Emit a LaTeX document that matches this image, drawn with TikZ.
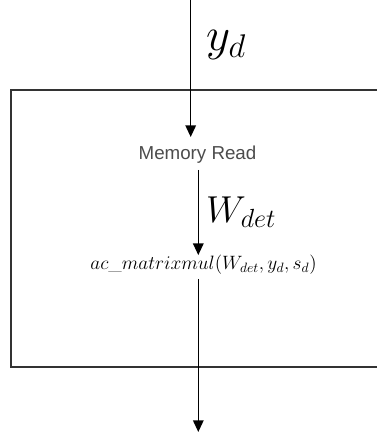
\RequirePackage{fix-cm}
\documentclass[tikz,border=0pt]{standalone}
\usepackage{amsmath}
\usepackage{fontspec}
\newfontfamily\labelsans{Liberation Sans}
\usetikzlibrary{arrows.meta}

\begin{document}
\begin{tikzpicture}[x=0.03cm, y=-0.03cm, every node/.style={inner sep=0pt},
	flow/.style={line width=1.3pt, -{Triangle[width=9pt, length=10pt]}},
	frame/.style={draw=black!80, line width=1.6pt}]
	\useasboundingbox (0,0) rectangle (377,436);
	% outer block, its right side runs off the page
	\draw[frame] (380,90) -- (11,90) -- (11,367) -- (380,367);
	\coordinate (src) at (190.7,0);
	\coordinate (sink) at (198.3,432);
	\node[font=\labelsans\fontsize{16}{19}\selectfont, text=black!70, anchor=center] (mem) at (197.5,155) {Memory Read};
	\node[font=\fontsize{16.5}{20}\selectfont] (mul) at (203.5,265) {$ac\_matrixmul(W_{det},y_{d},s_{d})$};
	\node[font=\fontsize{40}{46}\selectfont, anchor=west] (ylbl) at (206,45) {$y_d$};
	\node[font=\fontsize{32}{38}\selectfont, anchor=west] (wlbl) at (206,212) {$W_{det}$};
	\draw[flow] (src) -- (src |- 0,137);
	\draw[flow] (mem.south -| sink) ++(0,6) -- (mul.north -| sink);
	\draw[flow] (mul.south -| sink) ++(0,4) -- (sink);
\end{tikzpicture}
\end{document}
